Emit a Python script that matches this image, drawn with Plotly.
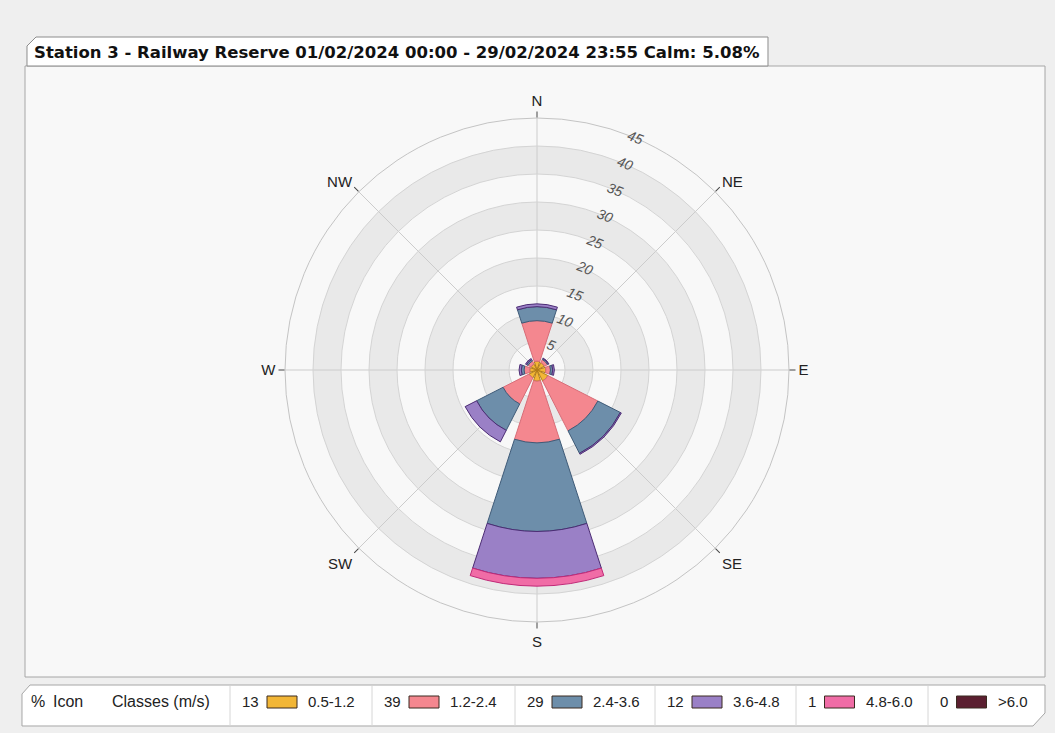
import plotly.graph_objects as go

# ---------------- data ----------------
directions = ["N", "NE", "E", "SE", "S", "SW", "W", "NW"]
dir_deg = [0, 45, 90, 135, 180, 225, 270, 315]
class_labels = ["0.5-1.2", "1.2-2.4", "2.4-3.6", "3.6-4.8", "4.8-6.0", ">6.0"]
class_pcts = [13, 39, 29, 12, 1, 0]

v_05_12 = [1.6, 1.5, 1.6, 2.2, 2.0, 1.6, 1.3, 1.2]
v_12_24 = [7.2, 0.6, 0.8, 10.0, 11.0, 5.2, 1.0, 0.6]
v_24_36 = [2.5, 0.2, 0.4, 4.5, 15.8, 5.3, 0.5, 0.3]
v_36_48 = [0.5, 0.1, 0.3, 0.2, 8.4, 2.3, 0.4, 0.2]
v_48_60 = [0.0, 0.0, 0.0, 0.0, 1.4, 0.0, 0.0, 0.0]
v_gt_60 = [0.0, 0.0, 0.0, 0.0, 0.0, 0.0, 0.0, 0.0]
series = [v_05_12, v_12_24, v_24_36, v_36_48, v_48_60, v_gt_60]

radial_ticks = [5, 10, 15, 20, 25, 30, 35, 40, 45]
band_starts = [5, 15, 25, 35]
band_size = 5

title_text = "Station 3 - Railway Reserve 01/02/2024 00:00 - 29/02/2024 23:55 Calm: 5.08%"

# ---------------- styles ----------------
fill_colors = ["#f2b636", "#f4878f", "#6d8eaa", "#9a80c6", "#f06ca6", "#5b1f30"]
edge_colors = ["#b07a18", "#d86d78", "#3f5b78", "#4c2c74", "#c02a78", "#2a0a12"]

W, H = 1055, 733
cx, cy, R = 537, 370, 252


def px(x):
    return x / W


def py(y):
    return 1 - y / H


dom_x = [px(cx - R), px(cx + R)]
dom_y = [py(cy + R), py(cy - R)]

fig = go.Figure()

# background bands (subplot "polar")
fig.add_trace(go.Barpolar(
    r=[band_size] * len(band_starts), base=band_starts,
    theta=[0] * len(band_starts), width=[360] * len(band_starts),
    marker=dict(color="#e9e9e9", line=dict(width=0)),
    hoverinfo="skip", showlegend=False, subplot="polar"))

# data (subplot "polar2")
for vals, lab, fc, ec in zip(series, class_labels, fill_colors, edge_colors):
    fig.add_trace(go.Barpolar(
        r=vals, theta=dir_deg, width=[36] * len(dir_deg), name=lab,
        marker=dict(color=fc, line=dict(color=ec, width=1)),
        showlegend=False, subplot="polar2"))

hidden_radial = dict(range=[0, 45], visible=False)
fig.update_layout(
    width=W, height=H, margin=dict(l=0, r=0, t=0, b=0),
    paper_bgcolor="#efefef",
    polar=dict(
        domain=dict(x=dom_x, y=dom_y), bgcolor="#f8f8f8", barmode="overlay",
        radialaxis=hidden_radial,
        angularaxis=dict(rotation=90, direction="clockwise", visible=False)),
    polar2=dict(
        domain=dict(x=dom_x, y=dom_y), bgcolor="rgba(0,0,0,0)", barmode="stack",
        radialaxis=dict(range=[0, 45], tickvals=radial_ticks, angle=69, tickangle=90,
                        showline=False, ticks="", gridcolor="#d4d4d4", gridwidth=1,
                        layer="below traces",
                        tickfont=dict(family="Liberation Sans", size=14, color="#555",
                                      style="italic")),
        angularaxis=dict(rotation=90, direction="clockwise", tickmode="array",
                         tickvals=dir_deg, ticktext=directions, ticks="outside",
                         ticklen=6, tickcolor="#444", showline=True, linecolor="#c4c4c4",
                         gridcolor="#cccccc", layer="below traces",
                         tickfont=dict(family="Liberation Sans", size=15, color="#222"))),
)

shapes = []
# chart panel
shapes.append(dict(type="rect", xref="paper", yref="paper", x0=px(25), x1=px(1045),
                   y0=py(677), y1=py(66), fillcolor="#f8f8f8",
                   line=dict(color="#a6a6a6", width=1), layer="below"))


def path(points):
    s = "M " + " L ".join(f"{px(x):.5f},{py(y):.5f}" for x, y in points) + " Z"
    return s


# title tab
shapes.append(dict(type="path", xref="paper", yref="paper",
                   path=path([(27, 66), (27, 46), (36, 37), (768, 37), (768, 66)]),
                   fillcolor="#ffffff", line=dict(color="#8c8c8c", width=1), layer="below"))
# legend bar
shapes.append(dict(type="path", xref="paper", yref="paper",
                   path=path([(22, 726), (22, 694), (30, 685), (1045, 685), (1045, 713),
                              (1033, 726)]),
                   fillcolor="#ffffff", line=dict(color="#a6a6a6", width=1), layer="below"))

annotations = [dict(text=f"<b>{title_text}</b>", x=px(32), y=py(52), xref="paper", yref="paper",
                    xanchor="left", yanchor="middle", showarrow=False,
                    font=dict(family="DejaVu Sans", size=16.5, color="#111"))]

leg_font = dict(family="Liberation Sans", size=15, color="#222")
head_font = dict(family="Liberation Sans", size=16, color="#222")
ty = py(701)
annotations.append(dict(text="%", x=px(29), y=ty, xref="paper", yref="paper",
                        xanchor="left", yanchor="middle", showarrow=False, font=head_font))
annotations.append(dict(text="Icon", x=px(51), y=ty, xref="paper", yref="paper",
                        xanchor="left", yanchor="middle", showarrow=False, font=head_font))
annotations.append(dict(text="Classes (m/s)", x=px(110), y=ty, xref="paper", yref="paper",
                        xanchor="left", yanchor="middle", showarrow=False, font=head_font))

separators = [230, 372, 515, 655, 796, 928]
for sep, pct, lab, fc, ec in zip(separators, class_pcts, class_labels, fill_colors, edge_colors):
    shapes.append(dict(type="line", xref="paper", yref="paper", x0=px(sep), x1=px(sep),
                       y0=py(686), y1=py(726), line=dict(color="#d6d6d6", width=1)))
    ptxt = str(pct)
    annotations.append(dict(text=ptxt, x=px(sep + 10), y=ty, xref="paper", yref="paper",
                            xanchor="left", yanchor="middle", showarrow=False, font=leg_font))
    bx0 = sep + 10 + 8.5 * len(ptxt) + 10
    shapes.append(dict(type="rect", xref="paper", yref="paper", x0=px(bx0), x1=px(bx0 + 30),
                       y0=py(708), y1=py(696), fillcolor=fc, line=dict(color="#3a2a20", width=1)))
    annotations.append(dict(text=lab, x=px(bx0 + 39), y=ty, xref="paper", yref="paper",
                            xanchor="left", yanchor="middle", showarrow=False, font=leg_font))

fig.update_layout(shapes=shapes, annotations=annotations)
fig.write_html(
    "out.html",
    config={"displayModeBar": False},
    post_script="document.body.style.margin='0';document.body.style.background='#efefef';",
)
